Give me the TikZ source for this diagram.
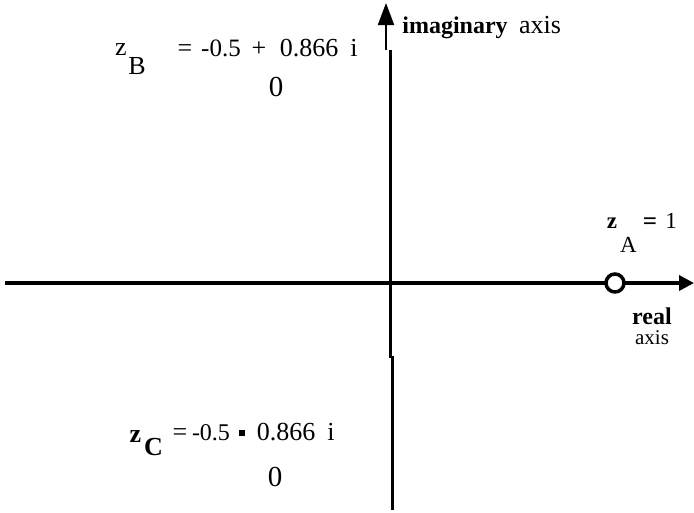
\documentclass[tikz,border=0pt]{standalone}
\usepackage{fontspec}
\setmainfont{Liberation Serif}
\usetikzlibrary{arrows.meta}
\tikzset{
  txt/.style={inner sep=0pt, anchor=base, font=\fontsize{26}{30}\selectfont},
  num/.style={inner sep=0pt, anchor=base, font=\fontsize{25}{30}\selectfont},
  numc/.style={inner sep=0pt, anchor=base, font=\fontsize{24}{30}\selectfont},
  big/.style={inner sep=0pt, anchor=base, font=\fontsize{29}{34}\selectfont},
  bld/.style={inner sep=0pt, anchor=base, font=\fontsize{26}{30}\selectfont\bfseries},
  txta/.style={inner sep=0pt, anchor=base, font=\fontsize{23}{26}\selectfont},
  axisline/.style={line width=3.5pt},
}
\begin{document}
\begin{tikzpicture}[x=1pt,y=-1pt]
\useasboundingbox (0,0) rectangle (694,512);
% axes coordinates
\coordinate (hs) at (5,283);
\coordinate (he) at (694,283);
\coordinate (vtip) at (386,3);
\coordinate (vthin) at (386,50);
\coordinate (vtop) at (390.5,50);
\coordinate (vmid) at (390.5,358);
\coordinate (vmid2) at (392.5,356);
\coordinate (vbot) at (392.5,510);
% horizontal axis
\draw[axisline, -{Triangle[length=15pt,width=15pt]}] (hs) -- (he);
% vertical axis
\draw[line width=2pt, -{Triangle[length=22pt,width=16pt]}] (vthin) -- (vtip);
\draw[axisline] (vtop) -- (vmid);
\draw[axisline] (vmid2) -- (vbot);
% point A
\node[circle, draw, line width=3.5pt, fill=white, minimum size=18pt, inner sep=0pt] (pA) at (615,283) {};
% z_B
\node[txt] (zB) at (121,55) {z};
\node[txt] (zBs) at (137,74) {B};
\node[txt] (zBeq) at (185,56) {=};
\node[num] (zBre) at (221,56) {-0.5};
\node[txt] (zBplus) at (259,56) {+};
\node[txt] (zBim) at (309,56) {0.866};
\node[txt] (zBi) at (354,56) {i};
\node[big] (zB0) at (276,96) {0};
% z_C
\node[bld] (zC) at (135.5,442) {z};
\node[bld] (zCs) at (153.5,455) {C};
\node[txt] (zCeq) at (180,440) {=};
\node[numc] (zCre) at (211,440) {-0.5};
\node[fill=black, minimum size=6pt, inner sep=0pt] (zCop) at (242,433) {};
\node[txt] (zCim) at (286,440) {0.866};
\node[txt] (zCi) at (331,440) {i};
\node[big] (zC0) at (275,486) {0};
% z_A
\node[txta, font=\fontsize{23}{26}\selectfont\bfseries] (zA) at (612,228) {z};
\node[txta] (zAs) at (628.5,252) {A};
\node[txta, font=\fontsize{25}{26}\selectfont\bfseries] (zAeq) at (650,229) {=};
\node[txta] (zA1) at (671,228) {1};
% axis labels
\node[inner sep=0pt, anchor=base, font=\fontsize{24}{28}\selectfont\bfseries] (im) at (455,33) {imaginary};
\node[inner sep=0pt, anchor=base, font=\fontsize{26}{28}\selectfont] (imax) at (540,33) {axis};
\node[inner sep=0pt, anchor=base, text depth=0pt, font=\fontsize{24}{28}\selectfont\bfseries] (re) at (652,324) {real};
\node[inner sep=0pt, anchor=base, text height=10pt, font=\fontsize{21}{24}\selectfont] (reax) at (652,344) {axis};
\end{tikzpicture}
\end{document}
